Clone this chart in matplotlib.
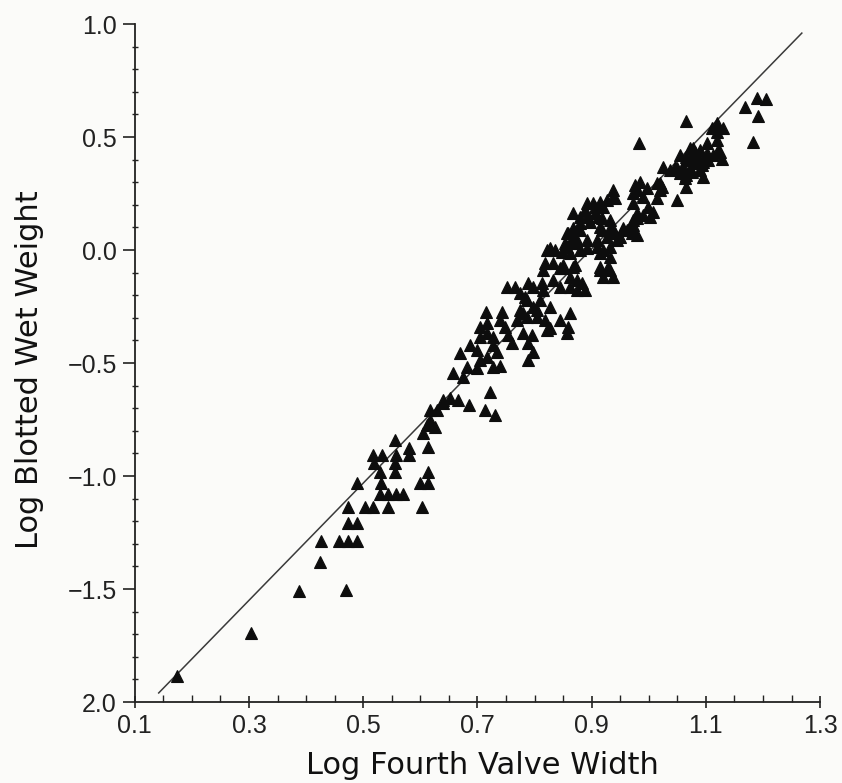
import matplotlib
matplotlib.use("Agg")
import matplotlib.pyplot as plt
import numpy as np
from matplotlib.ticker import MultipleLocator, FixedLocator, FixedFormatter

# log fourth valve width (x) and log blotted wet weight (y), one entry per chiton
log_width = [
    0.174, 0.303, 0.387, 0.424, 0.426, 0.470, 0.457, 0.473, 0.489, 0.473,
    0.489, 0.473, 0.503, 0.517, 0.543, 0.603, 0.489, 0.531, 0.529, 0.543,
    0.557, 0.569, 0.599, 0.613, 0.613, 0.529, 0.555, 0.519, 0.555, 0.517,
    0.533, 0.557, 0.580, 0.580, 0.613, 0.555, 0.604, 0.611, 0.625, 0.617,
    0.629, 0.639, 0.617, 0.639, 0.652, 0.666, 0.685, 0.713, 0.731, 0.722,
    0.657, 0.674, 0.682, 0.669, 0.687, 0.699, 0.704, 0.699, 0.717, 0.727,
    0.739, 0.717, 0.704, 0.717, 0.715, 0.743, 0.739, 0.748, 0.753, 0.760,
    0.727, 0.734, 0.752, 0.766, 0.774, 0.787, 0.797, 0.774, 0.787, 0.804,
    0.815, 0.809, 0.769, 0.818, 0.822, 0.780, 0.788, 0.797, 0.788, 0.795,
    0.704, 0.727, 0.783, 0.788, 0.797, 0.780, 0.804, 0.813, 0.815, 0.818,
    0.832, 0.844, 0.850, 0.862, 0.867, 0.832, 0.844, 0.862, 0.874, 0.888,
    0.874, 0.883, 0.827, 0.827, 0.844, 0.862, 0.858, 0.857, 0.827, 0.822,
    0.836, 0.848, 0.857, 0.862, 0.874, 0.879, 0.858, 0.867, 0.867, 0.879,
    0.892, 0.892, 0.906, 0.911, 0.918, 0.909, 0.920, 0.932, 0.937, 0.944,
    0.955, 0.967, 0.972, 0.979, 0.972, 0.937, 0.937, 0.932, 0.914, 0.932,
    0.920, 0.937, 0.972, 1.065, 0.983, 1.119, 1.130, 1.119, 1.111, 1.102,
    1.119, 1.121, 1.128, 1.112, 1.102, 1.090, 1.077, 1.076, 1.065, 1.055,
    1.084, 1.095, 1.090, 1.076, 1.065, 1.049, 1.025, 1.037, 1.063, 1.095,
    1.065, 1.049, 0.941, 0.927, 0.976, 0.984, 0.979, 0.997, 1.014, 1.023,
    1.019, 0.990, 1.014, 0.998, 1.007, 1.002, 0.990, 0.979, 0.902, 0.914,
    0.920, 0.888, 0.879, 0.906, 0.918, 0.897, 0.914, 0.932, 0.941, 0.962,
    0.971, 0.949, 0.955, 0.972, 0.979, 0.857, 0.867, 0.879, 0.853, 0.874,
    0.892, 0.909, 0.927, 0.914, 0.932, 0.862, 0.892, 0.850, 0.871, 0.914,
    0.928, 1.189, 1.205, 1.168, 1.191, 1.182, 1.125, 1.081, 1.072, 1.065,
    1.077, 1.090, 1.104, 1.046, 1.060, 1.072, 1.093, 1.055, 1.019,
]
log_weight = [
    -1.885, -1.695, -1.509, -1.381, -1.288, -1.504, -1.288, -1.288, -1.288, -1.208,
    -1.208, -1.137, -1.137, -1.137, -1.137, -1.137, -1.031, -1.031, -1.080, -1.080,
    -1.080, -1.080, -1.031, -1.031, -0.982, -0.982, -0.982, -0.942, -0.942, -0.907,
    -0.907, -0.907, -0.907, -0.876, -0.872, -0.841, -0.810, -0.774, -0.783, -0.708,
    -0.708, -0.677, -0.752, -0.664, -0.655, -0.664, -0.686, -0.708, -0.730, -0.628,
    -0.544, -0.562, -0.518, -0.456, -0.420, -0.442, -0.487, -0.522, -0.473, -0.518,
    -0.513, -0.367, -0.341, -0.323, -0.274, -0.274, -0.310, -0.341, -0.376, -0.412,
    -0.420, -0.451, -0.164, -0.164, -0.190, -0.221, -0.252, -0.265, -0.296, -0.296,
    -0.177, -0.221, -0.310, -0.310, -0.354, -0.367, -0.412, -0.451, -0.487, -0.376,
    -0.385, -0.385, -0.208, -0.146, -0.164, -0.279, -0.265, -0.146, -0.088, -0.058,
    -0.058, -0.080, -0.080, -0.119, -0.075, -0.133, -0.164, -0.164, -0.177, -0.177,
    -0.133, -0.146, -0.252, -0.345, -0.310, -0.279, -0.341, -0.367, 0.009, 0.000,
    0.000, -0.009, 0.013, 0.031, 0.044, 0.000, 0.075, 0.097, 0.164, 0.119,
    0.208, 0.146, 0.190, 0.146, 0.088, 0.013, 0.000, 0.013, 0.088, 0.044,
    0.088, 0.102, 0.133, 0.164, 0.208, 0.235, 0.265, 0.133, -0.088, -0.088,
    -0.119, -0.119, 0.252, 0.571, 0.473, 0.562, 0.540, 0.522, 0.540, 0.473,
    0.487, 0.442, 0.403, 0.420, 0.429, 0.442, 0.451, 0.420, 0.398, 0.420,
    0.385, 0.389, 0.354, 0.345, 0.332, 0.363, 0.367, 0.354, 0.319, 0.323,
    0.279, 0.221, 0.230, 0.221, 0.288, 0.301, 0.265, 0.274, 0.296, 0.279,
    0.265, 0.235, 0.230, 0.190, 0.168, 0.146, 0.155, 0.142, 0.208, 0.212,
    0.190, 0.177, 0.146, 0.164, 0.142, 0.124, 0.102, 0.097, 0.075, 0.088,
    0.075, 0.058, 0.097, 0.111, 0.066, 0.075, 0.058, 0.088, 0.031, 0.031,
    0.044, 0.044, 0.058, -0.013, -0.031, -0.013, 0.009, -0.066, -0.066, -0.075,
    -0.075, 0.673, 0.668, 0.633, 0.593, 0.478, 0.434, 0.434, 0.451, 0.412,
    0.398, 0.398, 0.398, 0.367, 0.367, 0.363, 0.376, 0.341, 0.296,
]

# fitted regression line
fit_intercept = -2.328
fit_slope = 2.593
fit_range = [0.142, 1.268]

y_ticks = [1.0, 0.5, 0.0, -0.5, -1.0, -1.5, -2.0]
y_tick_labels = ["1.0", "0.5", "0.0", "\u22120.5", "\u22121.0", "\u22121.5", "2.0"]
x_ticks = [0.1, 0.3, 0.5, 0.7, 0.9, 1.1, 1.3]
x_tick_labels = ["0.1", "0.3", "0.5", "0.7", "0.9", "1.1", "1.3"]

plt.rcParams["font.family"] = ["Liberation Sans", "DejaVu Sans"]

fig = plt.figure(figsize=(8.42, 7.83), dpi=100)
fig.patch.set_facecolor("#fbfbf9")
ax = fig.add_axes([0.160, 0.1034, 0.814, 0.8659])
ax.set_facecolor("#fbfbf9")

fx = np.array(fit_range)
ax.plot(fx, fit_intercept + fit_slope * fx, color="#3a3a3a", lw=1.1)
ax.plot(log_width, log_weight, linestyle="none", marker="^", ms=8.5,
        color="#0d0d0d", markeredgewidth=0.8)

ax.set_xlim(0.1, 1.3)
ax.set_ylim(-2.0, 1.0)

for side in ["top", "right"]:
    ax.spines[side].set_visible(False)
for side in ["left", "bottom"]:
    ax.spines[side].set_linewidth(1.3)
    ax.spines[side].set_color("#222222")

ax.yaxis.set_major_locator(FixedLocator(y_ticks))
ax.yaxis.set_major_formatter(FixedFormatter(y_tick_labels))
ax.yaxis.set_minor_locator(MultipleLocator(0.1))
ax.xaxis.set_major_locator(FixedLocator(x_ticks))
ax.xaxis.set_major_formatter(FixedFormatter(x_tick_labels))
ax.xaxis.set_minor_locator(MultipleLocator(0.05))

ax.tick_params(axis="y", which="major", direction="out", length=9, width=1.2,
               pad=4, labelsize=18, colors="#222222")
ax.tick_params(axis="y", which="minor", direction="inout", length=5, width=1.0,
               colors="#222222")
ax.tick_params(axis="x", which="major", direction="inout", length=9, width=1.2,
               pad=4, labelsize=18, colors="#222222")
ax.tick_params(axis="x", which="minor", direction="in", length=5, width=1.0,
               colors="#222222")

fig.text(482 / 842, 1 - 765 / 783, "Log Fourth Valve Width", fontsize=22,
         family="DejaVu Sans", ha="center", va="center", color="#111111")
fig.text(30 / 842, 1 - 370 / 783, "Log Blotted Wet Weight", fontsize=22,
         family="DejaVu Sans", rotation=90, ha="center", va="center",
         color="#111111")

fig.savefig("out.png", dpi=100, facecolor=fig.get_facecolor())
